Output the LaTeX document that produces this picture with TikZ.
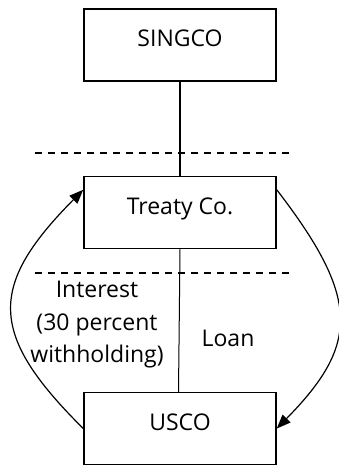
\documentclass[tikz,border=0pt]{standalone}
\usepackage{fontspec}
\setmainfont{Open Sans}
\usetikzlibrary{arrows.meta}
\begin{document}
\begin{tikzpicture}[x = 1pt, y = -1pt,
    every node/.style = {font = \fontsize{23}{32.5}\selectfont},
    entity/.style = {draw, line width = 1.5pt, minimum width = 192pt, minimum height = 72pt,
                     text height = 17pt, text depth = 13.5pt, inner sep = 0pt},
    flow/.style = {line width = 1.2pt, -{Triangle[length = 14pt, width = 11pt]}},
    border/.style = {line width = 1.3pt, dash pattern = on 7pt off 6pt}]
  \useasboundingbox (0, 0) rectangle (338, 465);
  \node [entity] (singco) at (180, 45) {SINGCO};
  \node [entity] (treaty) at (180, 212.5) {Treaty Co.};
  \node [entity] (usco) at (180, 428.5) {USCO};
  \draw [border] (35, 153) -- (295, 153);
  \draw [border] (35, 273) -- (295, 273);
  \draw [line width = 1.5pt] (singco) -- (treaty);
  \draw [line width = 1pt] (treaty.south) -- ([xshift = -1.5pt]usco.north);
  \draw [flow] (usco.west) .. controls (-12, 334) and (-12, 286) .. ([yshift = -14pt]treaty.north west);
  \draw [flow] ([yshift = -14pt]treaty.north east) .. controls (360, 298) and (360, 344) .. (usco.east);
  \node [align = center] (interest) at (97, 325) {Interest\\(30 percent\\withholding)};
  \node (loan) at (228, 338) {Loan};
\end{tikzpicture}
\end{document}
